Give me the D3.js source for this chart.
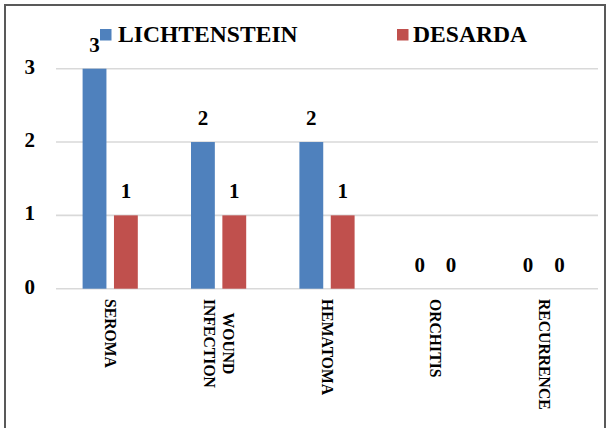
<!DOCTYPE html>
<html>
<head>
<meta charset="utf-8">
<script src="https://cdn.jsdelivr.net/npm/d3@7"></script>
<style>
  html, body { margin: 0; padding: 0; background: #fff; }
  svg { display: block; }
  text { font-family: "Liberation Serif", "Times New Roman", serif; font-weight: bold; fill: #000; }
</style>
</head>
<body>
<svg id="chart" width="609" height="428"></svg>
<script>
const categories = ["SEROMA", "WOUND INFECTION", "HEMATOMA", "ORCHITIS", "RECURRENCE"];
const categoryLines = [["SEROMA"], ["WOUND", "INFECTION"], ["HEMATOMA"], ["ORCHITIS"], ["RECURRENCE"]];
const seriesNames = ["LICHTENSTEIN", "DESARDA"];
const lichtenstein = [3, 2, 2, 0, 0];
const desarda = [1, 1, 1, 0, 0];
const seriesColors = ["#4f81bd", "#c0504d"];
const yTicks = [0, 1, 2, 3];

const seriesValues = [lichtenstein, desarda];
const svg = d3.select("#chart");

// outer border
svg.append("rect").attr("x", 5).attr("y", 5).attr("width", 600).attr("height", 450)
  .attr("fill", "#fff").attr("stroke", "#595959").attr("stroke-width", 2);

const plotLeft = 56, plotRight = 598, plotTop = 68.7, plotBottom = 288.7;
const y = d3.scaleLinear().domain([0, 3]).range([plotBottom, plotTop]);
const x0 = d3.scaleBand().domain(categories).range([plotLeft, plotRight]).padding(0);
const groupW = 55.2;
const x1 = d3.scaleBand().domain(seriesNames)
  .range([(x0.bandwidth() - groupW) / 2, (x0.bandwidth() + groupW) / 2])
  .paddingInner(0.24);

// gridlines
svg.append("g").selectAll("line").data(yTicks).join("line")
  .attr("x1", plotLeft).attr("x2", plotRight)
  .attr("y1", d => y(d)).attr("y2", d => y(d))
  .attr("stroke", "#d9d9d9").attr("stroke-width", 1.6);

// y tick labels
svg.append("g").selectAll("text").data(yTicks).join("text")
  .attr("x", 35).attr("y", d => y(d) + 5)
  .attr("text-anchor", "end")
  .style("font-size", "21px")
  .text(d => d);

// bars
const rows = [];
categories.forEach((c, i) => {
  seriesNames.forEach((s, j) => rows.push({ c, s, j, v: seriesValues[j][i] }));
});
svg.append("g").selectAll("rect").data(rows).join("rect")
  .attr("x", d => x0(d.c) + x1(d.s))
  .attr("y", d => y(d.v))
  .attr("width", x1.bandwidth())
  .attr("height", d => y(0) - y(d.v))
  .attr("fill", d => seriesColors[d.j]);

// data labels
svg.append("g").selectAll("text").data(rows).join("text")
  .attr("x", d => x0(d.c) + x1(d.s) + x1.bandwidth() / 2)
  .attr("y", d => y(d.v) - 17)
  .attr("text-anchor", "middle")
  .style("font-size", "21px")
  .text(d => d.v);

// category labels, rotated 90deg clockwise
const fs = 15.7;
categories.forEach((c, i) => {
  const lines = categoryLines[i];
  const cx = x0(c) + x0.bandwidth() / 2;
  const g = svg.append("g");
  const texts = lines.map(l => g.append("text").style("font-size", fs + "px").text(l));
  const lens = texts.map(t => t.node().getComputedTextLength());
  const maxLen = Math.max(...lens);
  const lineH = 18.5;
  const n = lines.length;
  texts.forEach((t, k) => {
    // first line on the right
    const off = ((n - 1) / 2 - k) * lineH;
    const bx = cx + off - fs * 0.33;
    const by = 299 + (maxLen - lens[k]) / 2;
    t.attr("transform", `translate(${bx},${by}) rotate(90)`);
  });
});

// legend
const legendItems = [{ x: 100, tx: 118 }, { x: 397, tx: 413 }];
seriesNames.forEach((s, j) => {
  svg.append("rect").attr("x", legendItems[j].x).attr("y", 29)
    .attr("width", 11.5).attr("height", 11.5).attr("fill", seriesColors[j]);
  svg.append("text").attr("x", legendItems[j].tx).attr("y", 42.3)
    .style("font-size", "23.6px").text(s);
});
</script>
</body>
</html>
